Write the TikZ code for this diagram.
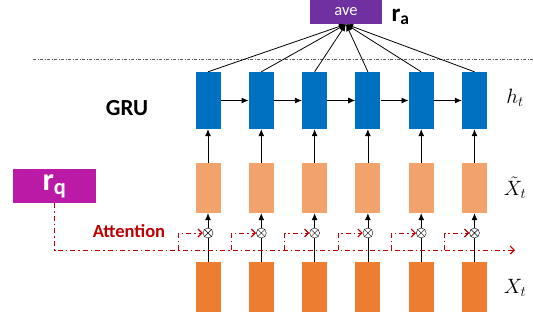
\documentclass[tikz,border=0pt]{standalone}
\usepackage{fontspec}
\setmainfont{Carlito}
\usetikzlibrary{arrows.meta,positioning,calc}
\definecolor{grublue}{HTML}{0070C0}
\definecolor{xtilde}{HTML}{F2A36B}
\definecolor{xorange}{HTML}{ED7D31}
\definecolor{avepurple}{HTML}{7030A0}
\definecolor{rqmagenta}{HTML}{BB1AA6}
\definecolor{attnred}{HTML}{C00000}
\tikzset{
  gruunit/.style = {fill=grublue, minimum width=25pt, minimum height=57pt, inner sep=0pt},
  filtbox/.style = {fill=xtilde, minimum width=25pt, minimum height=50pt, inner sep=0pt},
  inputbox/.style = {fill=xorange, minimum width=25pt, minimum height=50pt, inner sep=0pt},
  mult/.style = {circle, draw, fill=white, thin, minimum size=10pt, inner sep=0pt,
    path picture={\draw[thin] (path picture bounding box.north west) -- (path picture bounding box.south east)
      (path picture bounding box.south west) -- (path picture bounding box.north east);}},
  flow/.style = {-{Latex[length=7pt,width=6pt]}, thick},
  attn/.style = {attnred, thick, dash pattern=on 5pt off 3pt on 1.5pt off 3pt,
    -{Straight Barb[length=4pt,width=8pt,line width=1.2pt]}},
  varlab/.style = {font=\fontsize{21}{22}\selectfont, inner sep=0pt},
}
\begin{document}
\begin{tikzpicture}[x=1pt, y=-1pt]
\useasboundingbox (0,0) rectangle (533,322);

% separator
\coordinate (sepL) at (33,59);
\coordinate (sepR) at (533,59);
\draw[gray!70!black, thin, dash pattern=on 3pt off 1.5pt on 1pt off 1.5pt] (sepL) -- (sepR);

% average node
\node[fill=avepurple, text=white, minimum width=72pt, minimum height=24pt, inner sep=0pt,
  font=\fontsize{16.5}{17}\selectfont] (ave) at (346,12) {ave};
\node[font=\fontsize{25}{26}\selectfont\bfseries, anchor=west] (ra) at (388,17) {r\textsubscript{a}};

% columns
\foreach \i in {1,...,6}{
  \pgfmathsetmacro{\cx}{208+53.3*(\i-1)}
  \node[gruunit] (h\i) at (\cx,100.5) {};
  \node[filtbox] (xt\i) at (\cx,188) {};
  \node[mult] (m\i) at (\cx,233) {};
  \node[inputbox] (x\i) at (\cx,287) {};
  \coordinate (br\i) at (\cx-30,250);
  \draw[thick] (x\i.north) -- (m\i.south);
  \draw[flow] (m\i.north) -- (xt\i.south);
  \draw[flow] (xt\i.north) -- (h\i.south);
  \draw[flow] (h\i.north) -- (ave.south);
}
\foreach \i [evaluate=\i as \j using int(\i+1)] in {1,...,5}
  \draw[flow] (h\i.east) -- (h\j.west);

% labels
\node[font=\fontsize{23}{24}\selectfont\bfseries] (gru) at (127,108) {GRU};
\node[varlab] (hlab) at (515,98) {$h_t$};
\node[varlab] (xtlab) at (515,188) {$\tilde{X}_t$};
\node[varlab] (xlab) at (515,288) {$X_t$};

% query and attention
\node[fill=rqmagenta, text=white, minimum width=83pt, minimum height=34pt, inner sep=0pt,
  font=\fontsize{32}{32}\selectfont\bfseries] (rq) at (54.5,186) {\raisebox{4pt}{r\textsubscript{q}}};
\node[text=attnred, font=\fontsize{18.5}{19}\selectfont\bfseries] (att) at (129,231) {Attention};
\coordinate (attnend) at (515,250);
\draw[attn] (rq.south) |- (attnend);
\foreach \i in {1,...,6}
  \draw[attn] (br\i) |- (m\i.west);

\end{tikzpicture}
\end{document}
